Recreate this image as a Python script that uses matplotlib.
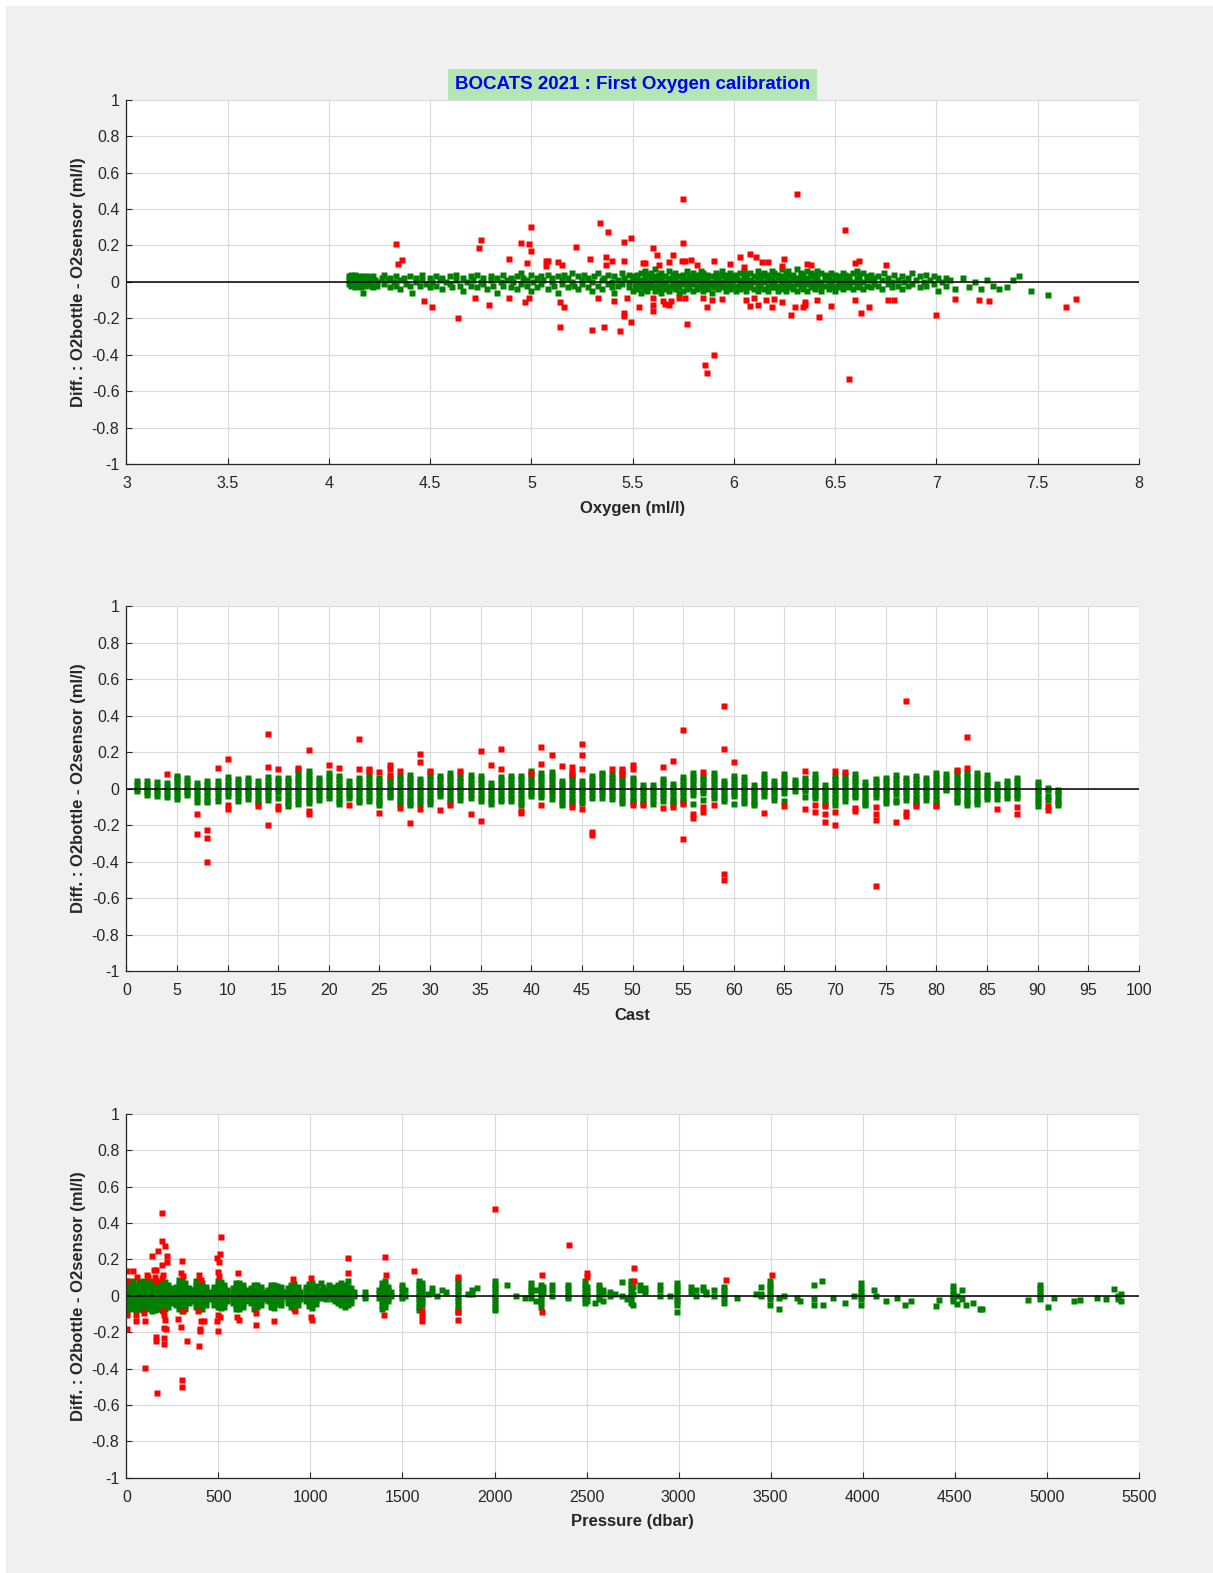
import matplotlib
matplotlib.use('Agg')
import matplotlib.pyplot as plt
from matplotlib.patches import Rectangle
from matplotlib.ticker import MultipleLocator, FuncFormatter

plt.rcParams['font.family'] = ['Liberation Sans', 'DejaVu Sans']

GREEN = '#008000'
RED = '#ff0000'
BG = '#f0f0f0'
INK = '#262626'
YLABEL = 'Diff. : O2bottle - O2sensor (ml/l)'

# ---- panel 1 : diff vs oxygen (green = kept, red = rejected) ----
oxy_cols = [
    4.10, 4.11, 4.12, 4.13, 4.14, 4.15, 4.16, 4.17,
    4.18, 4.19, 4.20, 4.21, 4.22, 4.23, 4.24, 4.26,
    4.27, 4.29, 4.30, 4.32, 4.33, 4.35, 4.37, 4.38,
    4.40, 4.41, 4.43, 4.45, 4.46, 4.48, 4.50, 4.51,
    4.53, 4.55, 4.56, 4.58, 4.60, 4.61, 4.63, 4.65,
    4.66, 4.68, 4.70, 4.71, 4.73, 4.75, 4.76, 4.78,
    4.80, 4.81, 4.83, 4.85, 4.86, 4.88, 4.90, 4.91,
    4.93, 4.95, 4.96, 4.98, 5.00, 5.01, 5.03, 5.05,
    5.06, 5.08, 5.10, 5.11, 5.13, 5.15, 5.16, 5.18,
    5.20, 5.21, 5.23, 5.25, 5.26, 5.28, 5.30, 5.31,
    5.33, 5.35, 5.36, 5.38, 5.40, 5.41, 5.43, 5.45,
    5.46, 5.48, 5.50, 5.51,
    5.52, 5.54, 5.56, 5.57, 5.59, 5.61, 5.63, 5.64,
    5.66, 5.68, 5.70, 5.71, 5.73, 5.75, 5.77, 5.78,
    5.80, 5.82, 5.84, 5.85, 5.87, 5.89, 5.91, 5.92,
    5.94, 5.96, 5.98, 5.99, 6.01, 6.03, 6.05, 6.06,
    6.08, 6.10, 6.12, 6.13, 6.15, 6.17, 6.19, 6.20,
    6.22, 6.24, 6.26, 6.27, 6.29, 6.31, 6.33, 6.34,
    6.36, 6.38, 6.40, 6.41, 6.43, 6.45, 6.47, 6.48,
    6.50, 6.52, 6.54, 6.55, 6.57, 6.59, 6.61, 6.62,
    6.64, 6.66, 6.68, 6.69,
    6.71, 6.73, 6.74, 6.76, 6.78, 6.79, 6.81, 6.83,
    6.84, 6.86, 6.88, 6.90, 6.92, 6.94, 6.95, 6.97,
    6.99, 7.01, 7.03, 7.05, 7.07, 7.09,
    7.13, 7.16, 7.19, 7.22, 7.25, 7.28, 7.31, 7.35,
    7.38, 7.41, 7.47, 7.55,
]
oxy_col_diffs = [
    [.01, .03, -.01], [.02, -.02, .04, 0], [.03, -.01, .01], [0, .04, -.03, .02], [.02, -.02], [.01, .03, -.01], [-.03, .02], [0, .03, -.06],
    [.01, -.02], [.03, -.01], [0, .02], [-.02, .01], [.03, -.03], [.01], [0, -.02], [.02],
    [-.01, .04], [.01], [-.03, .02], [0], [.03, -.02], [.01, -.04], [.02], [-.01],
    [.03, -.02], [-.06], [0, .02], [-.02], [.01, .04], [-.01], [.02, -.03], [0],
    [-.02, .03], [.01], [-.04, .02], [0], [.03, -.01], [-.03], [.01, .04], [-.02],
    [.02, -.05], [0], [.03, -.02], [.01], [-.03, .04], [0], [.02, -.01], [-.04],
    [.01, .03], [-.02], [.02, -.06], [0], [.04, -.02], [.01], [-.03, .02], [0],
    [.03, -.04], [-.01, .05], [.02], [-.02, .01], [.04, -.05], [0], [.02, -.03], [-.01, .03],
    [.01], [-.04, .04], [0, .02], [-.02], [.03, -.06], [.01, -.01], [.04], [-.03, .02],
    [0, .05], [-.02], [.03, -.04], [.01, -.01], [.04], [-.03, .02], [0, -.05], [.03],
    [-.02, .05], [.01, -.04], [.02], [-.01, .04], [0, -.03], [.03, -.06], [.01, -.02], [.05, -.01],
    [.02], [-.03, .04, 0], [.01, -.05, .03], [-.02, .02],
    [.04, .02, 0, -.02, -.04], [.05, .01, -.01, -.03, -.06], [.03, .01, -.02, -.04, .06], [.04, 0, -.03, -.05],
    [.05, .02, -.01, -.03], [.03, .01, -.02, -.05, .07], [.04, .02, 0, -.03, -.04], [.05, .01, -.02, -.06],
    [.03, 0, -.01, -.04], [.06, .02, -.02, -.05], [.04, .01, -.01, -.03], [.05, .02, -.02, -.04],
    [.03, 0, -.03, -.06], [.04, .02, -.01, -.05], [.06, .01, -.02, -.04], [.03, 0, -.03],
    [.05, .02, -.01, -.05], [.04, .01, -.02, -.04], [.03, 0, -.03, .06], [.05, .02, -.02, -.05],
    [.04, .01, -.01, -.04], [.03, 0, -.03, -.06], [.05, .02, -.02], [.04, .01, -.01, -.04],
    [.06, .03, 0, -.03], [.04, .01, -.02, -.05], [.05, .02, -.01, -.04], [.03, 0, -.03],
    [.04, .02, -.02, -.05], [.05, .01, -.01, -.04], [.03, 0, -.03, .06], [.04, .02, -.02, -.05],
    [.05, .01, -.01, -.03], [.03, 0, -.04], [.06, .02, -.02, -.05], [.04, .01, -.01, -.03],
    [.05, .03, 0, -.04], [.04, .01, -.02, -.05], [.06, .02, -.01, -.03], [.05, 0, -.03],
    [.04, .02, -.02, -.05], [.07, .03, .01, -.01, -.04], [.05, .02, -.02, -.05], [.06, .03, 0, -.03],
    [.04, .01, -.02, -.04], [.07, .02, -.01, -.05], [.05, .03, 0, -.03], [.04, .01, -.02, -.04],
    [.06, .02, -.01, -.05], [.05, .03, 0, -.03], [.04, .01, -.02, -.04], [.06, .02, -.01],
    [.05, 0, -.03, -.05], [.04, .02, -.02], [.03, .01, -.01, -.04], [.05, 0, -.03],
    [.04, .02, -.02, -.05], [.03, .01, -.01, -.03], [.05, 0, -.04], [.04, .02, -.02],
    [.03, .01, -.01, -.03], [.05, 0, -.04], [.06, .02, -.02], [.04, .01, -.01, -.03],
    [.05, 0, -.04], [.03, .02, -.02], [.04, .01, -.03], [.02, -.01],
    [.03, -.02], [.01, -.04], [.05], [.02, -.01], [0, -.03], [.04], [.01, -.02], [-.04, .03],
    [0], [.02, -.02], [.05, -.01], [.01], [-.03, .03], [0], [.04, -.02], [.01],
    [-.01, .03], [.02, -.05], [0], [-.02, .02], [.01], [-.04],
    [.02], [-.03], [0], [-.04], [.01], [-.02], [-.04], [-.03],
    [.01], [.03], [-.05], [-.07],
]
oxy_red = [
    4.33, 4.34, 4.36, 4.47, 4.51, 4.64, 4.75, 4.74, 4.72, 4.79,
    4.89, 4.89, 4.95, 4.99, 5.00, 5.00, 4.98, 4.97, 4.99, 5.07,
    5.08, 5.07, 5.13, 5.15, 5.14, 5.16, 5.14, 5.22, 5.29, 5.30,
    5.34, 5.38, 5.37, 5.40, 5.37, 5.33, 5.41, 5.36, 5.44, 5.46,
    5.49, 5.46, 5.47, 5.46, 5.46, 5.49, 5.53, 5.55, 5.56, 5.60,
    5.62, 5.63, 5.60, 5.60, 5.60, 5.65, 5.66, 5.68, 5.69, 5.70,
    5.68, 5.75, 5.75, 5.745, 5.76, 5.79, 5.82, 5.73, 5.76, 5.77,
    5.85, 5.87, 5.89, 5.90, 5.86, 5.87, 5.90, 5.94, 5.98, 6.03,
    6.05, 6.08, 6.11, 6.14, 6.17, 6.06, 6.08, 6.10, 6.12, 6.16,
    6.19, 6.20, 6.24, 6.25, 6.24, 6.28, 6.30, 6.31, 6.34, 6.35,
    6.35, 6.36, 6.38, 6.41, 6.42, 6.48, 6.55, 6.57, 6.60, 6.60,
    6.62, 6.63, 6.67, 6.75, 6.76, 6.79, 7.00, 7.09, 7.21, 7.26,
    7.64, 7.69,
]
dif_oxy_red = [
    .21, .10, .12, -.105, -.136, -.197, .23, .184, -.086, -.128,
    .127, -.09, .215, .206, .303, .167, .106, -.108, -.086, .116,
    .116, .088, .108, .09, -.108, -.138, -.248, .189, .127, -.264,
    .321, .274, .134, .112, .09, -.086, -.105, -.248, -.27, .217,
    .242, .116, -.086, -.173, -.186, -.222, -.138, .101, .101, .185,
    .149, .09, -.09, -.127, -.161, -.105, -.123, -.128, -.105, .149,
    .11, .453, .215, .116, .112, .121, .092, -.086, -.09, -.23,
    -.086, -.136, -.10, .112, -.459, -.50, -.40, -.092, .099, .138,
    .084, .152, .134, .11, .11, -.099, -.13, -.086, -.127, -.099,
    -.136, -.094, -.112, .123, .087, -.18, -.138, .483, -.136, -.127,
    -.11, .10, .095, -.097, -.195, -.13, .283, -.531, -.10, .105,
    .116, -.169, -.139, .09, -.10, -.097, -.182, -.092, -.097, -.106,
    -.136, -.095,
]

# ---- panel 2 : diff vs cast number ----
casts = list(range(1, 89)) + [90, 91, 92]
cast_diffs = [
    [.04, .02, 0, -.015], [.04, .02, 0, -.02, -.033], [.037, .015, -.005, -.025, -.042], [.03, .01, -.01, -.03, -.048],
    [.07, .06, .04, .02, 0, -.02, -.04, -.055], [.06, .04, .02, 0, -.02, -.037], [.03, .01, -.01, -.03, -.05, -.073], [.044, .02, 0, -.02, -.04, -.06, -.073],
    [.044, .02, 0, -.02, -.045, -.07], [.062, .04, .02, 0, -.02, -.042], [.055, .035, .015, -.005, -.025, -.045, -.066], [.059, .04, .02, 0, -.02, -.035, -.055],
    [.04, .02, 0, -.02, -.04, -.06, -.08], [.062, .04, .02, 0, -.02, -.04, -.06], [.059, .04, .02, 0, -.02, -.05], [.059, .04, .02, 0, -.02, -.04, -.06, -.08, -.097],
    [.10, .08, .06, .04, .02, 0, -.02, -.04, -.06, -.085], [.095, .075, .055, .035, .015, -.005, -.025, -.045, -.06, -.079], [.059, .04, .02, 0, -.02, -.04, -.06], [.086, .065, .045, .025, .005, -.015, -.035, -.05],
    [.068, .05, .03, .01, -.01, -.03, -.05, -.07, -.085], [.04, .02, 0, -.02, -.035, -.05], [.059, .04, .02, 0, -.02, -.04, -.06, -.073], [.072, .05, .03, .01, -.01, -.03, -.05, -.07],
    [.059, .04, .02, 0, -.02, -.04, -.06, -.075, -.088], [.059, .04, .02, 0, -.02, -.035, -.048], [.068, .05, .03, .01, -.01, -.03, -.05, -.07, -.085], [.077, .055, .035, .015, -.005, -.025, -.045, -.065, -.08, -.092],
    [.055, .035, .015, -.005, -.025, -.045, -.065, -.085], [.092, .07, .05, .03, .01, -.01, -.03, -.05, -.07, -.085], [.068, .05, .03, .01, -.01, -.025, -.042], [.086, .065, .045, .025, .005, -.015, -.035, -.055, -.073],
    [.083, .06, .04, .02, 0, -.02, -.04, -.06], [.073, .05, .03, .01, -.01, -.03, -.05], [.068, .05, .03, .01, -.01, -.03, -.05, -.066], [.031, .01, -.01, -.03, -.05, -.07, -.085],
    [.064, .045, .025, .005, -.015, -.035, -.055, -.07], [.068, .05, .03, .01, -.01, -.03, -.05, -.07], [.068, .05, .03, .01, -.01, -.03, -.05, -.075, -.092], [.095, .075, .055, .035, .015, -.005, -.025, -.042],
    [.086, .065, .045, .025, .005, -.015, -.03, -.048], [.092, .07, .05, .03, .01, -.01, -.03, -.055], [.044, .025, .005, -.015, -.035, -.055, -.075, -.088], [.068, .05, .03, .01, -.01, -.03, -.05, -.07, -.085],
    [.04, .02, 0, -.02, -.04, -.06, -.079], [.068, .05, .03, .01, -.01, -.03, -.05], [.086, .075, .055, .035, .015, -.005, -.025, -.05], [.081, .06, .04, .02, 0, -.02, -.04, -.055],
    [.095, .075, .055, .035, .015, -.005, -.025, -.045, -.065, -.08], [.059, .04, .02, 0, -.02, -.04, -.06, -.073], [.022, 0, -.02, -.04, -.06, -.079], [.018, 0, -.02, -.04, -.06, -.085],
    [.055, .035, .015, -.005, -.025, -.045, -.066], [.026, .005, -.015, -.035, -.055, -.07, -.085], [.062, .04, .02, 0, -.02, -.04, -.06, -.073], [.086, .065, .045, .025, .005, -.015, -.033, -.083],
    [.068, .05, .03, .01, -.01, -.024, -.06], [.086, .065, .045, .025, .005, -.015, -.035, -.05], [.044, .025, .005, -.015, -.035, -.05, -.066], [.068, .05, .03, .01, -.01, -.025, -.042, -.083],
    [.062, .04, .02, 0, -.02, -.04, -.06, -.079], [.018, 0, -.02, -.04, -.06, -.08, -.092], [.081, .06, .04, .02, 0, -.02, -.042], [.04, .02, 0, -.02, -.04, -.06],
    [.081, .06, .04, .02, 0, -.024, -.066], [.048, .03, .01, -.015], [.059, .04, .02, 0, -.015, -.048], [.081, .06, .04, .02, 0, -.02, -.035, -.05],
    [.018, 0, -.02, -.04, -.06, -.085], [.068, .05, .03, .01, -.01, -.03, -.05, -.07, -.088], [.077, .055, .035, .015, -.005, -.025, -.045, -.066], [.081, .06, .04, .02, 0, -.02, -.035, -.048],
    [.037, .015, -.005, -.025, -.045, -.065, -.08, -.092], [.055, .035, .015, -.005, -.025, -.048], [.059, .04, .02, 0, -.02, -.04, -.06, -.079], [.072, .05, .03, .01, -.01, -.03, -.06, -.075],
    [.059, .04, .02, 0, -.02, -.04, -.06], [.068, .05, .03, .01, -.01, -.03, -.05, -.07, -.085], [.059, .04, .02, 0, -.02, -.04, -.06], [.086, .065, .045, .025, .005, -.015, -.035, -.055, -.075, -.09],
    [.081, .06, .04, .02, 0, -.005], [.095, .075, .055, .035, .015, -.005, -.025, -.045, -.06, -.073], [.086, .065, .045, .025, .005, -.015, -.035, -.055, -.075, -.088], [.086, .065, .045, .025, .005, -.015, -.035, -.055, -.07, -.085],
    [.077, .055, .035, .015, -.005, -.025, -.04, -.055], [.026, .005, -.015, -.035, -.055], [.044, .025, .005, -.015, -.035, -.05], [.059, .04, .02, 0, -.02, -.035, -.05],
    [.037, .02, 0, -.015, -.037, -.055, -.075, -.097], [.005, -.01, -.04, -.06], [-.005, -.02, -.037, -.06, -.075, -.088],
]
cast_red = [
    4, 7, 7, 8, 8, 8, 9, 10, 10, 10,
    13, 14, 14, 14, 15, 15, 15, 17, 18, 18,
    18, 20, 21, 22, 23, 23, 24, 24, 25, 25,
    26, 26, 26, 27, 27, 28, 29, 29, 29, 30,
    31, 32, 33, 34, 35, 35, 36, 37, 37, 39,
    39, 40, 41, 41, 41, 42, 43, 44, 44, 44,
    44, 45, 45, 45, 45, 46, 46, 48, 49, 49,
    50, 50, 50, 51, 53, 53, 54, 54, 55, 55,
    55, 56, 56, 57, 57, 57, 58, 59, 59, 59,
    59, 60, 63, 65, 67, 67, 68, 68, 69, 69,
    69, 70, 70, 70, 71, 72, 72, 74, 74, 74,
    74, 76, 77, 77, 77, 78, 80, 82, 83, 83,
    86, 88, 88, 91, 91,
]
dif_cast_red = [
    .08, -.14, -.25, -.226, -.268, -.404, .112, .165, -.088, -.112,
    -.094, .30, .12, -.20, .105, -.097, -.112, .112, .211, -.125,
    -.14, .132, .114, -.092, .274, .105, .11, .095, .092, -.132,
    .128, .11, .077, .095, -.107, -.19, .19, .147, -.112, .099,
    -.116, -.088, .095, -.14, .204, -.176, .132, .215, .106, -.121,
    -.134, .086, .228, .136, -.088, .184, .123, .118, .09, .08,
    -.103, .242, .184, .11, -.112, -.235, -.253, .11, .11, .081,
    .128, .11, -.088, -.092, .121, -.107, .15, -.103, .32, -.085,
    -.276, -.14, -.162, .092, -.103, -.129, -.088, .454, .215, -.465,
    -.503, .147, -.136, -.097, .099, -.11, -.088, -.13, -.097, -.14,
    -.184, .095, -.129, -.198, .092, -.107, -.125, -.103, -.138, -.173,
    -.534, -.182, .481, -.13, -.149, -.097, -.097, .10, .283, .114,
    -.11, -.10, -.14, -.097, -.116,
]

# ---- panel 3 : diff vs pressure ----
pres_cols = [
    3, 18, 35, 52, 70, 88, 105, 122,
    140, 158, 175, 192, 210, 228, 242,
    268, 285, 302, 320, 338,
    360, 378, 395, 412, 430, 447,
    478, 495, 512, 530, 545,
    578, 596, 614, 632, 650,
    678, 695, 712, 730, 742,
    768, 785, 802, 820, 838, 850,
    878, 895, 912, 930, 942,
    975, 992, 1010, 1028, 1040,
    1055, 1068, 1085, 1100, 1118, 1135, 1150, 1168,
    1185, 1202, 1220, 1235, 1295, 1370, 1388, 1405,
    1422, 1438, 1500, 1512, 1590, 1605, 1640, 1660,
    1690, 1715, 1735, 1800, 1855, 1875, 1905, 2000,
    2070, 2115, 2165, 2200, 2225, 2250, 2265, 2310,
    2400, 2490, 2505, 2544, 2568, 2590, 2630, 2655,
    2695, 2718, 2740, 2752, 2790, 2815, 2900, 2955,
    2990, 3065, 3095, 3135, 3150, 3195, 3245, 3316,
    3420, 3445, 3495, 3545, 3570, 3645, 3660, 3735,
    3777, 3783, 3839, 3903, 3953, 3993, 4064, 4074,
    4125, 4185, 4231, 4265, 4400, 4416, 4490, 4512,
    4540, 4560, 4597, 4640, 4651, 4899, 4963, 5009,
    5039, 5150, 5180, 5271, 5321, 5366, 5385, 5405,
]
pres_col_diffs = [
    [.08, .06, .04, .02, 0, -.02, -.04, -.06, -.085], [.07, .05, .03, .01, -.01, -.03, -.05, -.07], [.08, .06, .04, .02, 0, -.02, -.04, -.065], [.06, .04, .02, 0, -.02, -.04, -.06, -.08],
    [.075, .055, .035, .015, -.005, -.025, -.045, -.07], [.08, .06, .04, .02, 0, -.02, -.04, -.06, -.08], [.07, .05, .03, .01, -.01, -.03, -.05, -.075], [.08, .06, .04, .02, 0, -.02, -.04, -.06],
    [.075, .055, .035, .015, -.005, -.025, -.045, -.065, -.085], [.08, .06, .04, .02, 0, -.02, -.04, -.06, -.08], [.07, .05, .03, .01, -.01, -.03, -.05, -.07], [.08, .06, .04, .02, 0, -.02, -.04, -.06, -.08],
    [.075, .055, .035, .015, -.005, -.025, -.045, -.07], [.06, .04, .02, 0, -.02, -.04, -.06], [.04, .02, 0, -.02, -.04],
    [.05, .03, .01, -.01, -.03, -.05], [.085, .065, .045, .025, .005, -.015, -.035, -.055, -.075], [.08, .06, .04, .02, 0, -.02, -.04, -.06, -.085], [.07, .05, .03, .01, -.01, -.03, -.05, -.07], [.04, .02, 0, -.02, -.04],
    [.03, .01, -.01, -.03], [.08, .06, .04, .02, 0, -.02, -.04, -.06], [.085, .065, .045, .025, .005, -.015, -.035, -.055, -.075], [.07, .05, .03, .01, -.01, -.03, -.05, -.07], [.05, .03, .01, -.01, -.03, -.05], [.02, 0, -.02],
    [.05, .03, .01, -.01, -.03, -.05], [.08, .06, .04, .02, 0, -.02, -.04, -.06], [.075, .055, .035, .015, -.005, -.025, -.045, -.065], [.06, .04, .02, 0, -.02, -.04, -.06], [.03, .01, -.01, -.03],
    [.04, .02, 0, -.02, -.04], [.07, .05, .03, .01, -.01, -.03, -.05, -.07], [.07, .05, .03, .01, -.01, -.03, -.05, -.075], [.06, .04, .02, 0, -.02, -.04, -.06], [.03, .01, -.01, -.03],
    [.04, .02, 0, -.02, -.04], [.06, .04, .02, 0, -.02, -.04, -.07], [.06, .04, .02, 0, -.02, -.04, -.06], [.05, .03, .01, -.01, -.03, -.05], [.02, 0, -.02],
    [.03, .01, -.01, -.03], [.06, .04, .02, 0, -.02, -.04, -.06], [.06, .04, .02, 0, -.02, -.04, -.065], [.055, .035, .015, -.005, -.025, -.045], [.05, .03, .01, -.01, -.03, -.05], [.02, 0],
    [.04, .02, 0, -.02, -.04], [.06, .04, .02, 0, -.02, -.04, -.06], [.065, .045, .025, .005, -.015, -.035, -.055, -.075], [.05, .03, .01, -.01, -.03, -.05], [.02, 0, -.02],
    [.05, .03, .01, -.01, -.03], [.065, .045, .025, .005, -.015, -.035, -.055], [.07, .05, .03, .01, -.01, -.03, -.05, -.065], [.055, .035, .015, -.005, -.025, -.045], [.03, .01, -.01],
    [.07, .03], [.05, .01, -.01], [.03, 0, -.02], [.06, .02, 0], [.04, .01, -.02], [.05, .03, 0, -.03], [.06, .03, .01, -.02, -.04], [.07, .05, .03, .01, -.01, -.03, -.05],
    [.06, .04, .02, 0, -.02, -.04, -.06], [.08, .05, .03, .01, -.01, -.03, -.05], [.04, .02, 0, -.02, -.04], [.02, 0], [.02, 0, -.01], [.03, .01, -.01], [.07, .05, .03, .01, -.01, -.03, -.05, -.07], [.08, .06, .04, .02, 0, -.02, -.04, -.06],
    [.05, .03, .01, -.01, -.03], [.02, 0], [.06, .04, .02, 0, -.01], [.03, 0], [.08, .06, .04, .02, 0, -.02, -.04, -.06, -.08], [.07, .05, .03, .01, -.01, -.03, -.05], [.01], [.04, .02],
    [0], [.03], [.02], [.09, .07, .05, .03, .01, -.01, -.03, -.05, -.07, -.09], [.01], [.03, .01], [.04], [.08, .06, .04, .02, 0, -.02, -.04, -.06, -.08],
    [.06], [0], [-.01], [.07, .05, .03, .01, -.01], [.03, -.03], [.06, .04, .02, 0, -.02, -.04, -.06], [.05, .02], [.06, .03, 0],
    [.06, .04, .02, 0, -.01], [.08, .06, .04, .02, 0, -.02, -.04], [.05, .02, 0, -.03], [-.04], [.06, .04, .02, 0, -.02], [.03, .01, -.03], [.02, 0], [.01],
    [.077, 0], [-.02], [.08, .06, .04, .02, 0, -.02, -.04], [.05, .01, -.05], [.06, .03], [.04, .02], [.06, .03, 0], [0],
    [.07, .05, .03, .01, -.01, -.03, -.05, -.09], [.05, .02], [.03, 0], [.05, .03], [.02, .01], [.03, 0], [.05, .03, .01, -.01, -.04], [-.01],
    [.01], [.05, .01, 0], [.08, .06, .04, .02, 0, -.02, -.05], [-.01, -.07], [0], [-.01], [-.03], [.06, -.02, -.05],
    [.08], [-.05], [-.01], [-.04], [0], [.07, .04, .02, 0, -.02, -.05], [.03], [0],
    [-.03], [-.015], [-.05], [-.03], [-.055], [-.025], [.055, .03, .01, -.01, -.03], [0, -.045],
    [.03, -.02], [-.05], [-.04], [-.075], [-.075], [-.025], [.06, .04, .02, 0, -.02], [-.06],
    [-.015], [-.03], [-.025], [-.015], [-.02], [.035], [0, -.02], [.01, -.03],
]
pres_red = [
    5, 5, 5, 5, 38, 56, 52, 50, 101, 114,
    119, 96, 103, 141, 152, 161, 156, 163, 159, 159,
    168, 170, 191, 192, 195, 211, 218, 218, 200, 195,
    200, 205, 210, 206, 214, 204, 202, 304, 298, 306,
    298, 281, 306, 303, 303, 331, 396, 405, 390, 405,
    420, 398, 402, 394, 490, 508, 512, 505, 495, 502,
    500, 490, 510, 500, 608, 600, 612, 702, 702, 804,
    903, 914, 1003, 1005, 1010, 1206, 1206, 1405, 1410, 1400,
    1564, 1604, 1604, 1604, 1803, 1803, 1800, 2004, 2256, 2256,
    2406, 2504, 2504, 2756, 2756, 3259, 3505,
]
dif_pres_red = [
    .134, .083, -.105, -.182, .138, .101, -.105, -.136, -.399, .116,
    .101, -.095, -.138, .217, .143, .143, .101, .083, -.224, -.248,
    -.533, .244, .452, .171, .303, .275, .217, .184, .116, .097,
    -.086, -.105, -.132, -.178, -.184, -.233, -.266, .189, .125, .107,
    -.174, -.127, -.086, -.463, -.50, -.248, .116, .088, -.086, -.138,
    -.138, -.18, -.196, -.274, .207, .23, .323, .184, .129, .107,
    -.105, -.138, -.114, -.196, .125, -.114, -.132, -.095, -.163, -.136,
    .092, -.086, .097, -.114, -.132, .208, .123, .215, .116, -.105,
    .134, -.086, -.11, -.141, .101, -.09, -.132, .479, .112, -.09,
    .281, .125, .101, .152, .083, .088, .112,
]


def expand(cols, col_diffs):
    assert len(cols) == len(col_diffs)
    xs, ys = [], []
    for x, ds in zip(cols, col_diffs):
        for d in ds:
            xs.append(x)
            ys.append(d)
    return xs, ys


def tick_fmt(v, pos):
    v = round(v, 6)
    if abs(v) < 1e-9:
        return '0'
    return f'{v:g}'


def draw_panel(ax, xg, yg, xr, yr, xlim, xstep, xlabel):
    assert len(xr) == len(yr)
    ax.set_facecolor('white')
    ax.plot(xg, yg, 's', color=GREEN, ms=3.9, mec='none', ls='none', zorder=3)
    ax.plot(xr, yr, 's', color=RED, ms=3.7, mec='none', ls='none', zorder=4)
    ax.axhline(0, color='black', lw=1.1, zorder=5)
    ax.set_xlim(*xlim)
    ax.set_ylim(-1, 1)
    ax.xaxis.set_major_locator(MultipleLocator(xstep))
    ax.yaxis.set_major_locator(MultipleLocator(0.2))
    ax.xaxis.set_major_formatter(FuncFormatter(tick_fmt))
    ax.yaxis.set_major_formatter(FuncFormatter(tick_fmt))
    ax.grid(True, color='#d9d9d9', lw=0.8)
    ax.set_axisbelow(True)
    for s in ('top', 'right'):
        ax.spines[s].set_visible(False)
    for s in ('left', 'bottom'):
        ax.spines[s].set_color(INK)
        ax.spines[s].set_linewidth(0.9)
        ax.spines[s].set_zorder(6)
    ax.tick_params(direction='in', length=4, width=0.8, colors=INK, labelsize=11.5)
    ax.tick_params(axis='x', pad=8.5)
    ax.tick_params(axis='y', pad=5)
    ax.set_xlabel(xlabel, fontsize=12, fontweight='bold', color=INK, labelpad=7)
    ax.set_ylabel(YLABEL, fontsize=12, fontweight='bold', color=INK, labelpad=4)


fig = plt.figure(figsize=(12.13, 15.73), dpi=100)
fig.set_facecolor('white')
fig.add_artist(Rectangle((6 / 1213, 0), 1, 1 - 6 / 1573, transform=fig.transFigure,
                         color=BG, zorder=-10))

ax1 = fig.add_axes([0.1042, 0.705, 0.8346, 0.2316])
ax2 = fig.add_axes([0.1042, 0.3826, 0.8346, 0.2321])
ax3 = fig.add_axes([0.1042, 0.0605, 0.8346, 0.2315])

xg, yg = expand(oxy_cols, oxy_col_diffs)
draw_panel(ax1, xg, yg, oxy_red, dif_oxy_red, (3, 8), 0.5, 'Oxygen (ml/l)')

xg, yg = expand(casts, cast_diffs)
draw_panel(ax2, xg, yg, cast_red, dif_cast_red, (0, 100), 5, 'Cast')

xg, yg = expand(pres_cols, pres_col_diffs)
draw_panel(ax3, xg, yg, pres_red, dif_pres_red, (0, 5500), 500, 'Pressure (dbar)')

ax1.annotate('BOCATS 2021 : First Oxygen calibration', xy=(0.5, 1), xycoords='axes fraction',
             xytext=(0, 5), textcoords='offset points', ha='center', va='bottom',
             fontsize=13.5, fontweight='bold', color='#0000ee',
             bbox=dict(facecolor='#b3e6b3', edgecolor='none', pad=5))

fig.savefig('out.png', dpi=100, facecolor=fig.get_facecolor())
